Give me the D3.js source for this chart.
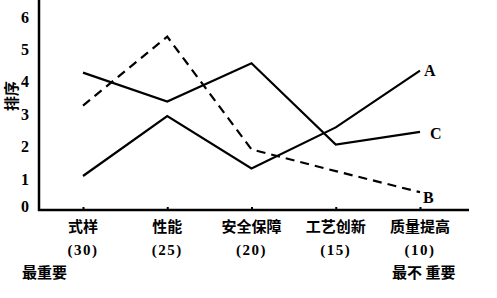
<!DOCTYPE html>
<html><head><meta charset="utf-8">
<script src="https://cdn.jsdelivr.net/npm/d3@7"></script>
<style>body{margin:0;background:#fff}svg{display:block}</style>
</head><body>
<svg id="c" width="497" height="298"></svg>
<script>
const categories = ["式样","性能","安全保障","工艺创新","质量提高"];
const weights = ["(30)","(25)","(20)","(15)","(10)"];
const seriesA = [1.05, 2.9, 1.28, 2.55, 4.3];
const seriesB = [3.22, 5.35, 1.87, 1.2, 0.55];
const seriesC = [4.24, 3.35, 4.53, 2.02, 2.41];
const seriesNames = ["A","B","C"];
const yTicks = [0,1,2,3,4,5,6];

const svg = d3.select("#c");
const x = d3.scalePoint().domain(categories).range([83, 420]);
const y = d3.scaleLinear().domain([0, 6]).range([210, 15.6]);
const cjk = "'Noto Sans CJK SC', sans-serif";
const serif = "'Liberation Serif', 'DejaVu Serif', serif";

// axes
svg.append("line").attr("x1",39).attr("x2",39).attr("y1",0).attr("y2",211)
  .attr("stroke","#000").attr("stroke-width",2.5);
svg.append("line").attr("x1",38).attr("x2",469).attr("y1",210).attr("y2",210)
  .attr("stroke","#000").attr("stroke-width",2.5);

const yAxis = d3.axisLeft(y).tickValues(yTicks).tickSize(0).tickPadding(10).tickFormat(d3.format("d"));
const gy = svg.append("g").attr("transform","translate(39,0)").call(yAxis);
gy.select(".domain").remove();
gy.selectAll("text").attr("font-family",serif).attr("font-weight","bold").attr("font-size",16).attr("fill","#000")
  .attr("dy", (d)=> d===0 ? "0.1em" : "0.4em");

const xAxis = d3.axisBottom(x).tickSize(3).tickFormat("");
const gx = svg.append("g").attr("transform","translate(0,207)").call(xAxis);
gx.select(".domain").remove();
gx.selectAll("line").attr("stroke","#000").attr("stroke-width",2);

// category labels
categories.forEach((c,i)=>{
  svg.append("text").attr("x",x(c)).attr("y",232).attr("text-anchor","middle")
    .attr("font-family",cjk).attr("font-weight","bold").attr("font-size",15).text(c);
  svg.append("text").attr("x",x(c)).attr("y",255).attr("text-anchor","middle")
    .attr("font-family",serif).attr("font-weight","bold").attr("font-size",15)
    .attr("letter-spacing",1.5).text(weights[i]);
});
svg.append("text").attr("x",22).attr("y",278).attr("font-family",cjk).attr("font-weight","bold")
  .attr("font-size",15).text("最重要");
svg.append("text").attr("x",392).attr("y",278).attr("font-family",cjk).attr("font-weight","bold")
  .attr("font-size",15).attr("xml:space","preserve").text("最不 重要");

// y label
svg.append("text").attr("transform","translate(17,96) rotate(-90)").attr("text-anchor","middle")
  .attr("font-family",cjk).attr("font-weight","bold").attr("font-size",15).text("排序");

// lines
const line = d3.line().x((d,i)=>x(categories[i])).y(d=>y(d));
const series = [
  {name:"A", data:seriesA, dash:null, lx:4, ly:0},
  {name:"B", data:seriesB, dash:"9,6", lx:3, ly:5},
  {name:"C", data:seriesC, dash:null, lx:10, ly:1}
];
series.forEach(s=>{
  svg.append("path").attr("d",line(s.data)).attr("fill","none").attr("stroke","#000")
    .attr("stroke-width",2.2).attr("stroke-dasharray",s.dash);
  const last = s.data[s.data.length-1];
  svg.append("text").attr("x",x(categories[categories.length-1])+s.lx).attr("y",y(last)+s.ly)
    .attr("dy","0.35em").attr("font-family",serif).attr("font-weight","bold").attr("font-size",16).text(s.name);
});
</script>
</body></html>
